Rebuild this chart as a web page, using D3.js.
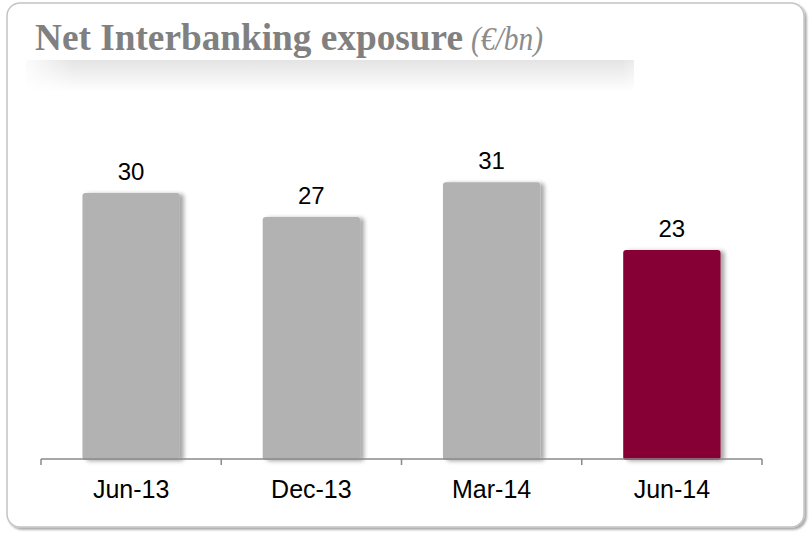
<!DOCTYPE html>
<html>
<head>
<meta charset="utf-8">
<script src="https://cdn.jsdelivr.net/npm/d3@7/dist/d3.min.js"></script>
<style>
  html, body { margin: 0; padding: 0; background: #ffffff; }
  svg { display: block; }
</style>
</head>
<body>
<svg id="chart" width="811" height="533"></svg>
<script>
// ---- data ----
const categories = ["Jun-13", "Dec-13", "Mar-14", "Jun-14"];
const values = [29.8, 27.1, 31.0, 23.4];
const barColors = ["#b2b2b2", "#b2b2b2", "#b2b2b2", "#860435"];
const titleMain = "Net Interbanking exposure";
const titleUnit = "(€/bn)";

const svg = d3.select("#chart");

const defs = svg.append("defs");
const cardShadow = defs.append("filter").attr("id", "cardShadow")
  .attr("x", "-5%").attr("y", "-5%").attr("width", "110%").attr("height", "110%");
cardShadow.append("feDropShadow").attr("dx", 2).attr("dy", 2).attr("stdDeviation", 1.2)
  .attr("flood-color", "#000").attr("flood-opacity", 0.35);

const barShadow = defs.append("filter").attr("id", "barShadow")
  .attr("x", "-20%").attr("y", "-10%").attr("width", "150%").attr("height", "120%");
barShadow.append("feDropShadow").attr("dx", 4).attr("dy", 1).attr("stdDeviation", 2)
  .attr("flood-color", "#000").attr("flood-opacity", 0.35);

// band under title
const bandX = 26, bandY = 60, bandW = 608, bandH = 32;
const vg = defs.append("linearGradient").attr("id", "bandV").attr("x1", 0).attr("y1", 0).attr("x2", 0).attr("y2", 1);
vg.append("stop").attr("offset", "0%").attr("stop-color", "#e4e4e4");
vg.append("stop").attr("offset", "30%").attr("stop-color", "#ececec");
vg.append("stop").attr("offset", "100%").attr("stop-color", "#ffffff");
const hg = defs.append("linearGradient").attr("id", "bandH").attr("x1", 0).attr("y1", 0).attr("x2", 1).attr("y2", 0);
hg.append("stop").attr("offset", "0%").attr("stop-color", "#fff").attr("stop-opacity", 0.15);
hg.append("stop").attr("offset", "8%").attr("stop-color", "#fff").attr("stop-opacity", 1);
hg.append("stop").attr("offset", "98%").attr("stop-color", "#fff").attr("stop-opacity", 1);
hg.append("stop").attr("offset", "100%").attr("stop-color", "#fff").attr("stop-opacity", 0.7);
const mask = defs.append("mask").attr("id", "bandMask");
mask.append("rect").attr("x", bandX).attr("y", bandY).attr("width", bandW).attr("height", bandH).attr("fill", "url(#bandH)");

// card
svg.append("rect")
  .attr("x", 7).attr("y", 3).attr("width", 797).attr("height", 524)
  .attr("rx", 13).attr("ry", 13)
  .attr("fill", "#ffffff").attr("stroke", "#c4c4c4").attr("stroke-width", 1.5)
  .attr("filter", "url(#cardShadow)");

// title band
svg.append("rect").attr("x", bandX).attr("y", bandY).attr("width", bandW).attr("height", bandH)
  .attr("fill", "url(#bandV)").attr("mask", "url(#bandMask)");

// title
svg.append("text")
  .attr("x", 35).attr("y", 50)
  .attr("font-family", "'Liberation Serif', 'Times New Roman', serif")
  .attr("font-weight", "bold").attr("font-size", 37)
  .attr("fill", "#808080")
  .attr("textLength", 428).attr("lengthAdjust", "spacingAndGlyphs")
  .text(titleMain);
svg.append("text")
  .attr("x", 471).attr("y", 50)
  .attr("font-family", "'Liberation Serif', 'Times New Roman', serif")
  .attr("font-style", "italic").attr("font-size", 33)
  .attr("fill", "#8c8c8c")
  .attr("textLength", 72).attr("lengthAdjust", "spacingAndGlyphs")
  .text(titleUnit);

// scales
const x = d3.scaleBand().domain(categories).range([41, 762]).paddingInner(0.46).paddingOuter(0.23);
const y = d3.scaleLinear().domain([0, 35]).range([459, 459 - 35 * 8.93]);

const data = categories.map((c, i) => ({ cat: c, v: values[i], color: barColors[i] }));

// bars
svg.append("g").selectAll("rect").data(data).join("rect")
  .attr("x", d => x(d.cat))
  .attr("y", d => y(d.v))
  .attr("width", x.bandwidth())
  .attr("height", d => y(0) - y(d.v) + 1)
  .attr("rx", 3).attr("ry", 3)
  .attr("fill", d => d.color)
  .attr("filter", "url(#barShadow)");

// value labels
svg.append("g").selectAll("text").data(data).join("text")
  .attr("x", d => x(d.cat) + x.bandwidth() / 2)
  .attr("y", d => y(d.v) - 13)
  .attr("text-anchor", "middle")
  .attr("font-family", "'Liberation Sans', Arial, sans-serif")
  .attr("font-size", 24)
  .attr("fill", "#000")
  .text(d => d3.format(".0f")(d.v));

// x axis
const xTicks = d3.scalePoint().domain(d3.range(categories.length + 1)).range([41, 762]);
const axisG = svg.append("g");
axisG.append("line")
  .attr("x1", 41).attr("x2", 762).attr("y1", 459).attr("y2", 459)
  .attr("stroke", "#8a8a8a").attr("stroke-width", 1.5);
axisG.selectAll("line.tick").data(xTicks.domain()).join("line")
  .attr("class", "tick")
  .attr("x1", d => xTicks(d)).attr("x2", d => xTicks(d))
  .attr("y1", 459).attr("y2", 465)
  .attr("stroke", "#8a8a8a").attr("stroke-width", 1.5);
axisG.selectAll("text").data(categories).join("text")
  .attr("x", d => x(d) + x.bandwidth() / 2)
  .attr("y", 498)
  .attr("text-anchor", "middle")
  .attr("font-family", "'Liberation Sans', Arial, sans-serif")
  .attr("font-size", 25)
  .attr("fill", "#000")
  .text(d => d);
</script>
</body>
</html>
